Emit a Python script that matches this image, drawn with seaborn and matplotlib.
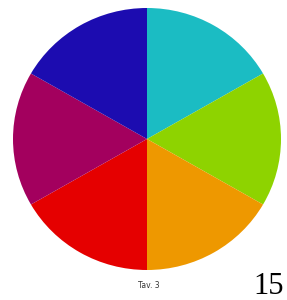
import matplotlib
matplotlib.use("Agg")
import matplotlib.pyplot as plt
import seaborn as sns

labels = ["Ciano", "Verde", "Arancio", "Rosso", "Magenta", "Blu"]
values = [1, 1, 1, 1, 1, 1]
colors = ["#1BBCC3", "#8ED300", "#EE9800", "#E50000", "#A3005E", "#1C0CB0"]

sns.set_style("white")
palette = sns.color_palette(colors)

fig = plt.figure(figsize=(2.87, 3.0), dpi=100)
ax = fig.add_axes([(147 - 134) / 287, (300 - 139 - 131) / 300, 268 / 287, 262 / 300])
ax.pie(values, colors=palette, startangle=90, counterclock=False,
       wedgeprops=dict(linewidth=0))
ax.set_aspect("auto")
ax.set_xlim(-1, 1)
ax.set_ylim(-1, 1)
ax.axis("off")

fig.text(149 / 287, 1 - 285 / 300, "Tav. 3", ha="center", va="center",
         fontsize=5.5, family="DejaVu Sans", color="#333333")
fig.text(269 / 287, 1 - 293.5 / 300, "15", ha="center", va="baseline",
         fontsize=22, family="Liberation Serif", color="black")

fig.savefig("out.png", dpi=100)
